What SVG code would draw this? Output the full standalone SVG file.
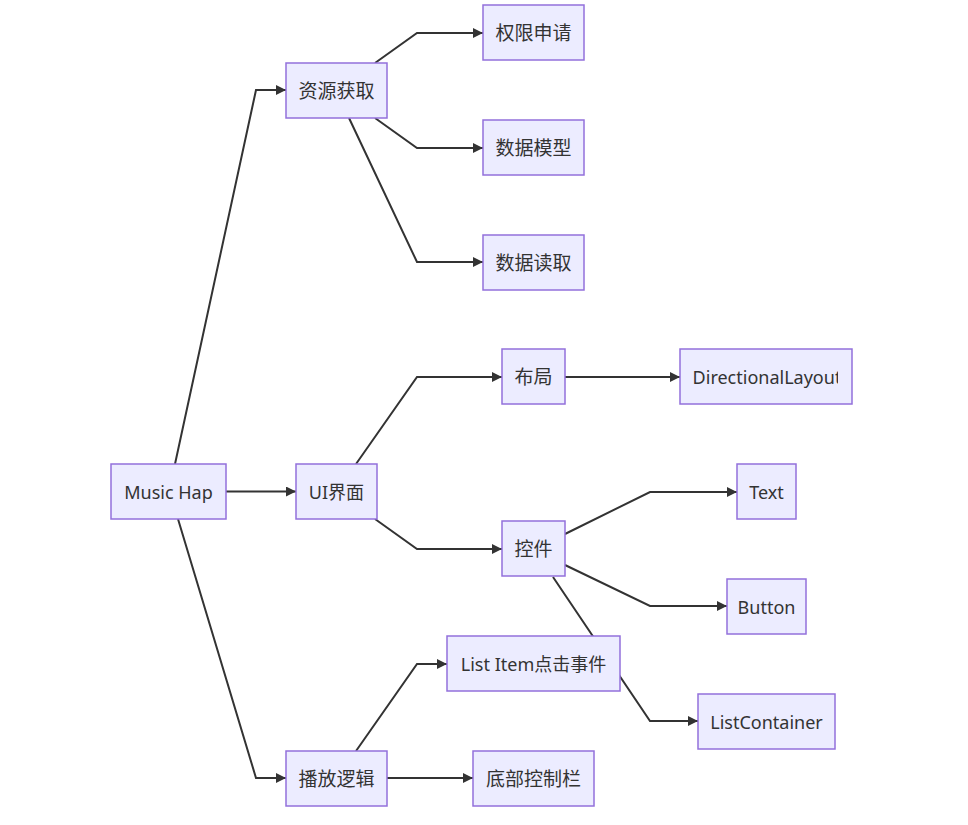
<svg xmlns="http://www.w3.org/2000/svg" width="968" height="825" viewBox="0 0 968 825">
<style>
.node rect{fill:#ECECFF;stroke:#9370DB;stroke-width:1.5px}
.node text{font-family:"Noto Sans","Noto Sans CJK SC",sans-serif;font-size:18px;fill:#333333;text-anchor:middle;dominant-baseline:central}
.node text.cjk{font-size:19px}
.edges path{fill:none;stroke:#333333;stroke-width:2px}
</style>
<defs>
<marker id="arrow" viewBox="0 0 10 10" refX="10" refY="5" markerWidth="11" markerHeight="10" markerUnits="userSpaceOnUse" orient="auto">
<path d="M0,0 L10,5 L0,10 z" fill="#333333"/>
</marker>
<clipPath id="clipDL"><rect x="680" y="349" width="158" height="55"/></clipPath>
</defs>
<rect width="968" height="825" fill="#ffffff"/>
<g class="edges">
<path d="M175,464 L256,90 L286,90" marker-end="url(#arrow)"/>
<path d="M226,491.5 L296,491.5" marker-end="url(#arrow)"/>
<path d="M178,519 L256,778 L286,778" marker-end="url(#arrow)"/>
<path d="M375,63 L417,33 L483,33" marker-end="url(#arrow)"/>
<path d="M375,118 L417,148 L483,148" marker-end="url(#arrow)"/>
<path d="M349,118 L417,262 L483,262" marker-end="url(#arrow)"/>
<path d="M356,464 L417,377 L502,377" marker-end="url(#arrow)"/>
<path d="M375,519 L417,549 L502,549" marker-end="url(#arrow)"/>
<path d="M565,377 L680,377" marker-end="url(#arrow)"/>
<path d="M565,534 L650,492 L737,492" marker-end="url(#arrow)"/>
<path d="M565,565 L650,606 L727,606" marker-end="url(#arrow)"/>
<path d="M553,577 L650,721 L698,721" marker-end="url(#arrow)"/>
<path d="M356,751 L417,664 L447,664" marker-end="url(#arrow)"/>
<path d="M387,778 L473,778" marker-end="url(#arrow)"/>
</g>
<g id="n-music" class="node"><rect x="111" y="464" width="115" height="55"/><text x="168.5" y="491.5">Music Hap</text></g>
<g id="n-ui" class="node"><rect x="296" y="464" width="81" height="55"/><text x="336.5" y="491.5">UI界面</text></g>
<g id="n-res" class="node"><rect x="286" y="63" width="101" height="55"/><text class="cjk" x="336.5" y="90.5">资源获取</text></g>
<g id="n-play" class="node"><rect x="286" y="751" width="101" height="55"/><text class="cjk" x="336.5" y="778.5">播放逻辑</text></g>
<g id="n-perm" class="node"><rect x="483" y="5" width="101" height="55"/><text class="cjk" x="533.5" y="32.5">权限申请</text></g>
<g id="n-model" class="node"><rect x="483" y="120" width="101" height="55"/><text class="cjk" x="533.5" y="147.5">数据模型</text></g>
<g id="n-read" class="node"><rect x="483" y="235" width="101" height="55"/><text class="cjk" x="533.5" y="262.5">数据读取</text></g>
<g id="n-layout" class="node"><rect x="502" y="349" width="63" height="55"/><text class="cjk" x="533.5" y="376.5">布局</text></g>
<g id="n-ctrl" class="node"><rect x="502" y="521" width="63" height="55"/><text class="cjk" x="533.5" y="548.5">控件</text></g>
<g id="n-item" class="node"><rect x="447" y="636" width="173" height="55"/><text x="533.5" y="663.5">List Item点击事件</text></g>
<g id="n-bottom" class="node"><rect x="473" y="751" width="121" height="55"/><text class="cjk" x="533.5" y="778.5">底部控制栏</text></g>
<g id="n-dl" class="node"><rect x="680" y="349" width="172" height="55"/><text x="767" y="376.5" clip-path="url(#clipDL)">DirectionalLayout</text></g>
<g id="n-text" class="node"><rect x="737" y="464" width="59" height="55"/><text x="766.5" y="491.5">Text</text></g>
<g id="n-button" class="node"><rect x="727" y="579" width="79" height="55"/><text x="766.5" y="606.5">Button</text></g>
<g id="n-list" class="node"><rect x="698" y="694" width="137" height="55"/><text x="766.5" y="721.5">ListContainer</text></g>
</svg>
